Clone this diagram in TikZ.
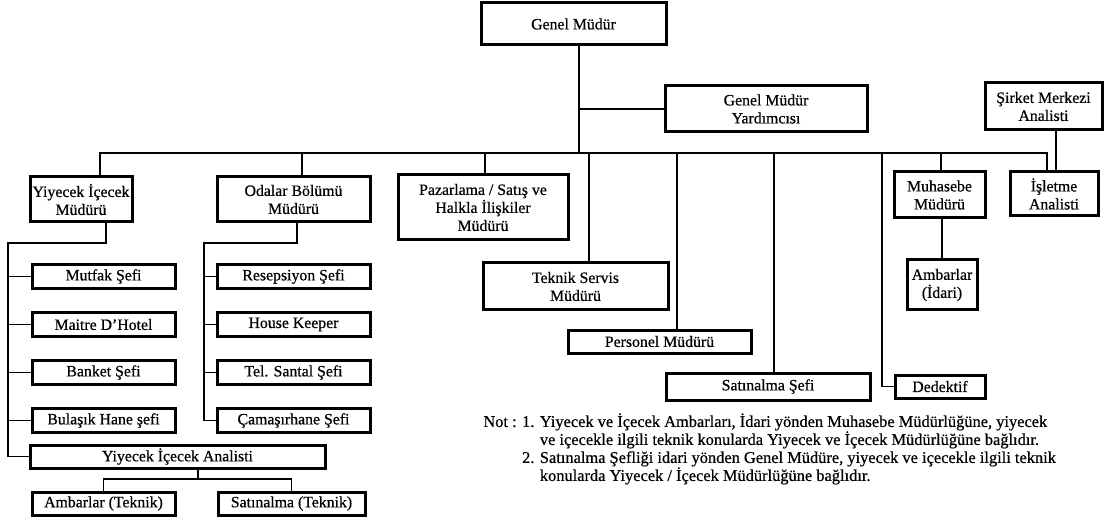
\documentclass[tikz,border=0pt]{standalone}
\usepackage{fontspec}
\setmainfont{Liberation Serif}[FakeBold=0.6]
\usetikzlibrary{positioning}

\begin{document}
\begin{tikzpicture}[
    x=0.5pt, y=-0.5pt,
    font=\fontsize{7.9}{9}\selectfont,
    node distance=10.5pt,
    box/.style={draw, line width=1.5pt, align=center, inner sep=1pt},
    sef/.style={box, minimum width=71.5pt, minimum height=12pt},
    oda/.style={box, minimum width=76.5pt, minimum height=12pt},
    line/.style={line width=0.6pt}
  ]
  \useasboundingbox (0,0) rectangle (1119,518);

  % GENEL MUDUR
  \node[box, minimum width=92.5pt, minimum height=21pt] (gm) at (573.5,24) {Genel Müdür};
  \node[box, minimum width=101pt, minimum height=23pt] (gmy) at (766,109) {Genel Müdür\\ Yardımcısı};
  \node[box, minimum width=58.5pt, minimum height=23.5pt] (sma) at (1043.5,106.5) {Şirket Merkezi\\ Analisti};

  % MUDURLUKLER
  \node[box, minimum width=51pt, minimum height=22.5pt] (yim) at (81,199.5) {Yiyecek İçecek\\ Müdürü};
  \node[box, minimum width=76.5pt, minimum height=22.5pt] (obm) at (293.5,199.5) {Odalar Bölümü\\ Müdürü};
  \node[box, minimum width=85pt, minimum height=32.5pt] (pzr) at (483,207.5) {Pazarlama / Satış ve\\ Halkla İlişkiler\\ Müdürü};
  \node[box, minimum width=92.5pt, minimum height=23.5pt] (tsm) at (575.5,286.5) {Teknik Servis\\ Müdürü};
  \node[box, minimum width=91.5pt, minimum height=11.5pt] (pers) at (659.5,341.5) {Personel Müdürü};
  \node[box, minimum width=102pt, minimum height=13.5pt] (sats) at (768,386.5) {Satınalma Şefi};
  \node[box, minimum width=45pt, minimum height=11.5pt] (ddk) at (940,386.5) {Dedektif};
  \node[box, minimum width=45.5pt, minimum height=23pt] (muh) at (939.5,195) {Muhasebe\\ Müdürü};
  \node[box, minimum width=44pt, minimum height=22pt] (isl) at (1054,194) {İşletme\\ Analisti};
  \node[box, minimum width=35pt, minimum height=25pt] (ambi) at (942,285) {Ambarlar\\ (İdari)};

  % YIYECEK ICECEK SEFLERI
  \node[sef] (mut) at (103.5,276.5) {Mutfak Şefi};
  \node[sef, below=of mut] (mai) {Maitre D'Hotel};
  \node[sef, below=of mai] (ban) {Banket Şefi};
  \node[sef, below=of ban] (bul) {Bulaşık Hane şefi};
  \node[box, minimum width=147.5pt, minimum height=11.5pt] (ana) at (177.5,456.5) {Yiyecek İçecek Analisti};
  \node[box, minimum width=71.5pt, minimum height=11.5pt] (ambt) at (103.5,503.5) {Ambarlar (Teknik)};
  \node[box, minimum width=73.5pt, minimum height=11.5pt] (satt) at (291.5,503.5) {Satınalma (Teknik)};

  % ODALAR SEFLERI
  \node[oda] (res) at (293.5,276.5) {Resepsiyon Şefi};
  \node[oda, below=of res] (hk) {House Keeper};
  \node[oda, below=of hk] (tel) {Tel. Santal Şefi};
  \node[oda, below=of tel] (cam) {Çamaşırhane Şefi};

  % NOT
  \node[anchor=north west, align=left, inner sep=0pt, font=\fontsize{8.2}{9}\selectfont] (not) at (483,413) {Not : 1. Yiyecek ve İçecek Ambarları, İdari yönden Muhasebe Müdürlüğüne, yiyecek\\
    \phantom{Not : 1. }ve içecekle ilgili teknik konularda Yiyecek ve İçecek Müdürlüğüne bağlıdır.\\
    \phantom{Not : }2. Satınalma Şefliği idari yönden Genel Müdüre, yiyecek ve içecekle ilgili teknik\\
    \phantom{Not : 2. }konularda Yiyecek / İçecek Müdürlüğüne bağlıdır.};

  % GENEL MUDUR BAGLANTILARI
  \coordinate (top) at (579,153);
  \draw[line] (gm.south -| top) -- (top);
  \draw[line] (top |- gmy.west) -- (gmy.west);

  % ANA HAT
  \coordinate (barl) at (100,153);
  \coordinate (barr) at (1047,153);
  \draw[line] (yim.north -| barl) -- (barl) -- (barr) -- (isl.north -| barr);
  \foreach \n/\x in {obm/302, pzr/485, tsm/589, pers/677, sats/774, muh/941}{
    \coordinate (b-\n) at (\x,153);
    \draw[line] (b-\n) -- (\n.north -| b-\n);
  }
  \coordinate (b-ddk) at (882,153);
  \draw[line] (b-ddk) |- (ddk.west);
  \coordinate (smaout) at ([xshift=6.25pt]sma.south);
  \draw[line] (smaout) -- (smaout |- isl.north);
  \draw[line] (ambi.north) -- (ambi.north |- muh.south);

  % YIYECEK ICECEK HATTI
  \coordinate (yimout) at ([xshift=12.5pt]yim.south);
  \coordinate (raily) at (8,243);
  \draw[line] (yimout) |- (raily) -- (raily |- ana.west) -- (ana.west);
  \foreach \n in {mut,mai,ban,bul}
    \draw[line] (raily |- \n.west) -- (\n.west);
  \coordinate (anaout) at ([xshift=10.25pt]ana.south);
  \coordinate (ja) at (198,479);
  \draw[line] (anaout) -- (ja);
  \draw[line] (ambt.north) |- (ja) -| (satt.north);

  % ODALAR HATTI
  \coordinate (obmout) at ([xshift=1.75pt]obm.south);
  \coordinate (railo) at (204,243);
  \draw[line] (obmout) |- (railo) -- (railo |- cam.west) -- (cam.west);
  \foreach \n in {res,hk,tel}
    \draw[line] (railo |- \n.west) -- (\n.west);
\end{tikzpicture}
\end{document}
